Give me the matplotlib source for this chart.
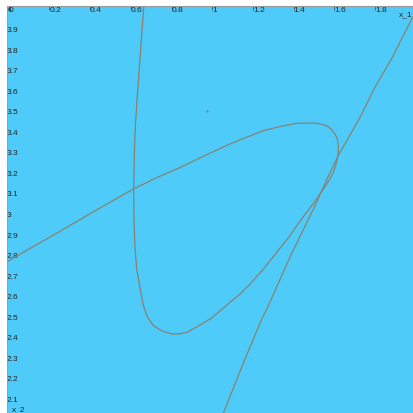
import matplotlib
matplotlib.use("Agg")
import matplotlib.pyplot as plt

# curve with the loop (x_1, x_2)
loop_x = [-0.008, 0.203, 0.449, 0.614, 0.719, 0.842, 0.965, 1.087, 1.171, 1.251,
          1.333, 1.415, 1.497, 1.534, 1.562, 1.583, 1.603, 1.615, 1.619, 1.619,
          1.614, 1.606, 1.595, 1.579, 1.562, 1.513, 1.464, 1.421, 1.382, 1.318,
          1.251, 1.195, 1.137, 1.087, 1.038, 0.989, 0.930, 0.875, 0.837, 0.801,
          0.753, 0.711, 0.682, 0.662, 0.648, 0.638, 0.629, 0.621, 0.617, 0.615,
          0.614, 0.618, 0.623, 0.631, 0.645, 0.665]
loop_y = [2.765, 2.885, 3.027, 3.120, 3.171, 3.224, 3.283, 3.339, 3.373, 3.404,
          3.424, 3.440, 3.441, 3.437, 3.428, 3.412, 3.388, 3.363, 3.331, 3.300,
          3.266, 3.232, 3.201, 3.171, 3.144, 3.071, 3.006, 2.949, 2.892, 2.812,
          2.729, 2.666, 2.607, 2.567, 2.524, 2.485, 2.451, 2.420, 2.413, 2.412,
          2.427, 2.453, 2.495, 2.550, 2.622, 2.680, 2.729, 2.827, 2.924, 3.022,
          3.120, 3.315, 3.437, 3.559, 3.754, 4.027]

# the second, almost straight branch
branch_x = [1.988, 1.882, 1.800, 1.726, 1.677, 1.628, 1.579, 1.497, 1.382,
            1.268, 1.243, 1.151, 1.055]
branch_y = [3.965, 3.757, 3.617, 3.469, 3.383, 3.299, 3.201, 3.022, 2.788,
            2.534, 2.485, 2.266, 2.027]

# lone point
dot_x = [0.973]
dot_y = [3.499]

xticks = [0, 0.2, 0.4, 0.6, 0.8, 1, 1.2, 1.4, 1.6, 1.8]
xlabels = ["0", "0.2", "0.4", "0.6", "0.8", "1", "1.2", "1.4", "1.6", "1.8"]
yticks = [2.1, 2.2, 2.3, 2.4, 2.5, 2.6, 2.7, 2.8, 2.9, 3, 3.1, 3.2, 3.3, 3.4,
          3.5, 3.6, 3.7, 3.8, 3.9, 4]
ylabels = ["2.1", "2.2", "2.3", "2.4", "2.5", "2.6", "2.7", "2.8", "2.9", "3",
           "3.1", "3.2", "3.3", "3.4", "3.5", "3.6", "3.7", "3.8", "3.9", "4"]

plt.rcParams["font.family"] = ["Liberation Sans", "DejaVu Sans"]

bg = "#4ecbf9"
curve_col = "#8a8172"
txt_col = "#262626"
fs = 6

fig = plt.figure(figsize=(4.13, 4.14), dpi=100)
ax = fig.add_axes([7 / 413, 0, 406 / 413, 407 / 414])
ax.set_facecolor(bg)

ax.plot(loop_x, loop_y, color=curve_col, lw=0.9, solid_joinstyle="round")
ax.plot(branch_x, branch_y, color=curve_col, lw=0.9, solid_joinstyle="round")
ax.plot(dot_x, dot_y, ls="none", marker="o", ms=0.8, color=curve_col)

ax.set_xlim(-0.008, 1.986)
ax.set_ylim(2.027, 4.012)

for s in ["right", "bottom"]:
    ax.spines[s].set_visible(False)
ax.spines["top"].set_color("#9a9a9a")
ax.spines["left"].set_color("#9a9a9a")
ax.spines["top"].set_linewidth(0.8)
ax.spines["left"].set_linewidth(0.5)

ax.set_xticks(xticks, xlabels)
ax.set_yticks(yticks, ylabels)
ax.tick_params(axis="x", top=True, labeltop=True, bottom=False, labelbottom=False,
               direction="in", length=3, width=0.6, color="#555555", pad=0,
               labelsize=fs, labelcolor=txt_col)
ax.tick_params(axis="y", left=True, labelleft=True, length=0, pad=0,
               labelsize=fs, labelcolor=txt_col)
for t in ax.xaxis.get_major_ticks():
    t.label2.set_ha("left")
    t.label2.set_va("top")
for t in ax.yaxis.get_major_ticks():
    t.label1.set_ha("left")

ax.text(0.999, 0.99, "x_1", transform=ax.transAxes, ha="right", va="top",
        fontsize=fs, color=txt_col)
ax.text(0.012, 0.003, "x_2", transform=ax.transAxes, ha="left", va="bottom",
        fontsize=fs, color=txt_col)

fig.savefig("out.png", dpi=100, facecolor="white")
